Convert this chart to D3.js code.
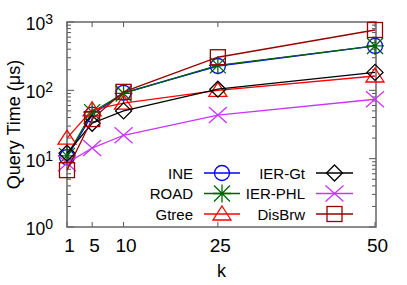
<!DOCTYPE html>
<html>
<head>
<meta charset="utf-8">
<script src="https://cdn.jsdelivr.net/npm/d3@7"></script>
<style>
  body { margin: 0; background: #fff; }
  text { font-family: "Liberation Sans", Arial, sans-serif; fill: #000; }
</style>
</head>
<body>
<script>
const kValues = [1, 5, 10, 25, 50];
const ine = [10.5, 44, 92, 227, 446];
const road = [11, 48, 90, 232, 446];
const gtree = [20, 52, 65, 100, 162];
const ierGt = [12, 33, 50, 104, 183];
const ierPhl = [8.6, 14.3, 22, 43.5, 74];
const disBrw = [6.8, 38, 95, 305, 764];
const yTickExps = [0, 1, 2, 3];

const series = [
  { name: 'INE', values: ine, color: '#0000ff', marker: 'circle' },
  { name: 'ROAD', values: road, color: '#006400', marker: 'star' },
  { name: 'Gtree', values: gtree, color: '#ff0000', marker: 'triangle' },
  { name: 'IER-Gt', values: ierGt, color: '#000000', marker: 'diamond' },
  { name: 'IER-PHL', values: ierPhl, color: '#cc33ff', marker: 'cross' },
  { name: 'DisBrw', values: disBrw, color: '#990000', marker: 'square' },
];

const width = 407;
const height = 285;
const margin = { left: 67, right: 31, top: 22, bottom: 58 };

const svg = d3.select('body').append('svg')
  .attr('width', width)
  .attr('height', height);

const x = d3.scaleLinear().domain([1, 50]).range([margin.left, width - margin.right - 1]);
const y = d3.scaleLog().domain([1, 1000]).range([height - margin.bottom, margin.top]);

const x0 = margin.left;
const x1 = width - margin.right;
const y0 = height - margin.bottom;
const y1 = margin.top;

// y ticks (left + right, inward)
const minor = [];
for (let e = 0; e < 3; e++) {
  for (let m = 2; m < 10; m++) minor.push(m * Math.pow(10, e));
}
const tickG = svg.append('g').attr('stroke', '#555').attr('stroke-width', 1);
minor.forEach((v) => {
  tickG.append('line').attr('x1', x0).attr('x2', x0 + 4).attr('y1', y(v)).attr('y2', y(v));
  tickG.append('line').attr('x1', x1).attr('x2', x1 - 4).attr('y1', y(v)).attr('y2', y(v));
});
yTickExps.forEach((e) => {
  const v = Math.pow(10, e);
  tickG.append('line').attr('x1', x0).attr('x2', x0 + 7).attr('y1', y(v)).attr('y2', y(v));
  tickG.append('line').attr('x1', x1).attr('x2', x1 - 7).attr('y1', y(v)).attr('y2', y(v));
});
kValues.forEach((k) => {
  tickG.append('line').attr('x1', x(k)).attr('x2', x(k)).attr('y1', y0).attr('y2', y0 - 5);
  tickG.append('line').attr('x1', x(k)).attr('x2', x(k)).attr('y1', y1).attr('y2', y1 + 5);
});

// frame
svg.append('rect')
  .attr('x', x0).attr('y', y1)
  .attr('width', x1 - x0).attr('height', y0 - y1)
  .attr('fill', 'none')
  .attr('stroke', '#666')
  .attr('stroke-width', 1.5);

// y tick labels
yTickExps.forEach((e) => {
  const t = svg.append('text')
    .attr('x', 53)
    .attr('y', y(Math.pow(10, e)) + 8)
    .attr('text-anchor', 'end')
    .style('font-size', '17.5px');
  t.append('tspan').text('10');
  t.append('tspan').attr('dy', -6).style('font-size', '14px').text(e);
});

// x tick labels
kValues.forEach((k) => {
  svg.append('text')
    .attr('x', x(k) + 2.5)
    .attr('y', 252)
    .attr('text-anchor', 'middle')
    .style('font-size', '19px')
    .text(k);
});

svg.append('text')
  .attr('x', (x0 + x1) / 2)
  .attr('y', 277)
  .attr('text-anchor', 'middle')
  .style('font-size', '18px')
  .text('k');

svg.append('text')
  .attr('transform', `translate(20,${(y0 + y1) / 2}) rotate(-90)`)
  .attr('text-anchor', 'middle')
  .style('font-size', '18px')
  .text('Query Time (μs)');

function drawMarker(g, type, cx, cy, color) {
  const s = 8;
  if (type === 'circle') {
    g.append('circle').attr('cx', cx).attr('cy', cy).attr('r', 7.5)
      .attr('fill', 'none').attr('stroke', color);
  } else if (type === 'square') {
    g.append('rect').attr('x', cx - 7.5).attr('y', cy - 7.5).attr('width', 15).attr('height', 15)
      .attr('fill', 'none').attr('stroke', color);
  } else if (type === 'triangle') {
    g.append('path').attr('d', `M${cx},${cy - 8}L${cx + 9},${cy + 6}L${cx - 9},${cy + 6}Z`)
      .attr('fill', 'none').attr('stroke', color);
  } else if (type === 'diamond') {
    g.append('path').attr('d', `M${cx},${cy - s}L${cx + s},${cy}L${cx},${cy + s}L${cx - s},${cy}Z`)
      .attr('fill', 'none').attr('stroke', color);
  } else if (type === 'cross') {
    g.append('path').attr('d', `M${cx - 9},${cy - 8}L${cx + 9},${cy + 8}M${cx - 9},${cy + 8}L${cx + 9},${cy - 8}`)
      .attr('stroke', color);
  } else if (type === 'star') {
    g.append('path').attr('d', `M${cx - 8},${cy - 8}L${cx + 8},${cy + 8}M${cx - 8},${cy + 8}L${cx + 8},${cy - 8}M${cx},${cy - 9}L${cx},${cy + 9}M${cx - 9},${cy}L${cx + 9},${cy}`)
      .attr('stroke', color);
  }
}

const line = d3.line().x((d) => x(d[0])).y((d) => y(d[1]));

series.forEach((s) => {
  const g = svg.append('g').attr('stroke-width', 1.3);
  const pts = kValues.map((k, i) => [k, s.values[i]]);
  g.append('path').attr('d', line(pts)).attr('fill', 'none').attr('stroke', s.color);
  pts.forEach((p) => drawMarker(g, s.marker, x(p[0]), y(p[1]), s.color));
});

// legend
const legendCols = [
  { textX: 193, lx0: 204, lx1: 240 },
  { textX: 305, lx0: 316, lx1: 353 },
];
series.forEach((s, i) => {
  const col = legendCols[Math.floor(i / 3)];
  const row = i % 3;
  const ly = 173 + row * 20.5;
  svg.append('text')
    .attr('x', col.textX)
    .attr('y', ly + 5.5)
    .attr('text-anchor', 'end')
    .style('font-size', '15px')
    .text(s.name);
  const g = svg.append('g').attr('stroke-width', 1.3);
  g.append('line').attr('x1', col.lx0).attr('x2', col.lx1).attr('y1', ly).attr('y2', ly)
    .attr('stroke', s.color);
  drawMarker(g, s.marker, (col.lx0 + col.lx1) / 2, ly, s.color);
});
</script>
</body>
</html>
